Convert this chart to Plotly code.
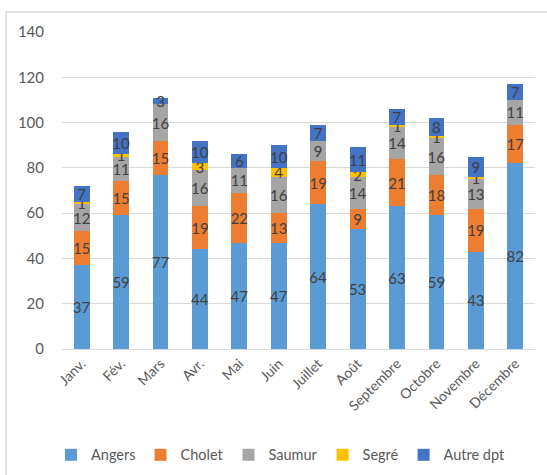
import plotly.graph_objects as go

months = ["Janv.", "Fév.", "Mars", "Avr.", "Mai", "Juin", "Juillet", "Août",
          "Septembre", "Octobre", "Novembre", "Décembre"]
angers = [37, 59, 77, 44, 47, 47, 64, 53, 63, 59, 43, 82]
cholet = [15, 15, 15, 19, 22, 13, 19, 9, 21, 18, 19, 17]
saumur = [12, 11, 16, 16, 11, 16, 9, 14, 14, 16, 13, 11]
segre = [1, 1, 0, 3, 0, 4, 0, 2, 1, 1, 1, 0]
autre = [7, 10, 3, 10, 6, 10, 7, 11, 7, 8, 9, 7]
y_ticks = [0, 20, 40, 60, 80, 100, 120, 140]

series = [
    ("Angers", angers, "#5B9BD5"),
    ("Cholet", cholet, "#ED7D31"),
    ("Saumur", saumur, "#A5A5A5"),
    ("Segré", segre, "#FFC000"),
    ("Autre dpt", autre, "#4472C4"),
]

FONT = "Lato, Noto Sans, sans-serif"
fig = go.Figure()
for name, vals, col in series:
    fig.add_trace(go.Bar(
        name=name, x=months, y=vals,
        marker=dict(color=col, line=dict(width=0)),
        text=[str(v) if v else "" for v in vals],
        textposition="inside", insidetextanchor="middle",
        textangle=0, constraintext="none",
        textfont=dict(color="#404040", size=15, family=FONT),
        cliponaxis=False,
    ))

fig.update_layout(
    barmode="stack", bargap=0.6,
    width=547, height=475,
    margin=dict(l=62, r=12, t=32, b=126, autoexpand=False),
    paper_bgcolor="white", plot_bgcolor="white",
    font=dict(family=FONT, color="#595959", size=12),
    uniformtext=dict(mode="show", minsize=15),
    legend=dict(orientation="h", x=0.462, xanchor="center", y=-0.334, yanchor="middle",
                font=dict(size=14.5, color="#595959"), itemwidth=30,
                traceorder="normal"),
    xaxis=dict(tickangle=-45, showgrid=False, showline=True, linecolor="#D9D9D9",
               tickfont=dict(size=14, color="#595959"), ticks="", automargin=False),
    yaxis=dict(range=[0, 140], tickvals=y_ticks, showgrid=True, gridcolor="#D9D9D9",
               zeroline=False, tickfont=dict(size=15, color="#595959"), ticks="",
               ticklabelstandoff=17, automargin=False),
    shapes=[dict(type="rect", xref="paper", yref="paper",
                 x0=-0.118, x1=1.2, y0=-0.6, y1=1.063,
                 line=dict(color="#D9D9D9", width=1.5), fillcolor="rgba(0,0,0,0)",
                 layer="below")],
)

fig.write_html("out.html",
               config={"displayModeBar": False},
               post_script="document.body.style.margin='0';document.body.style.overflow='hidden';")
